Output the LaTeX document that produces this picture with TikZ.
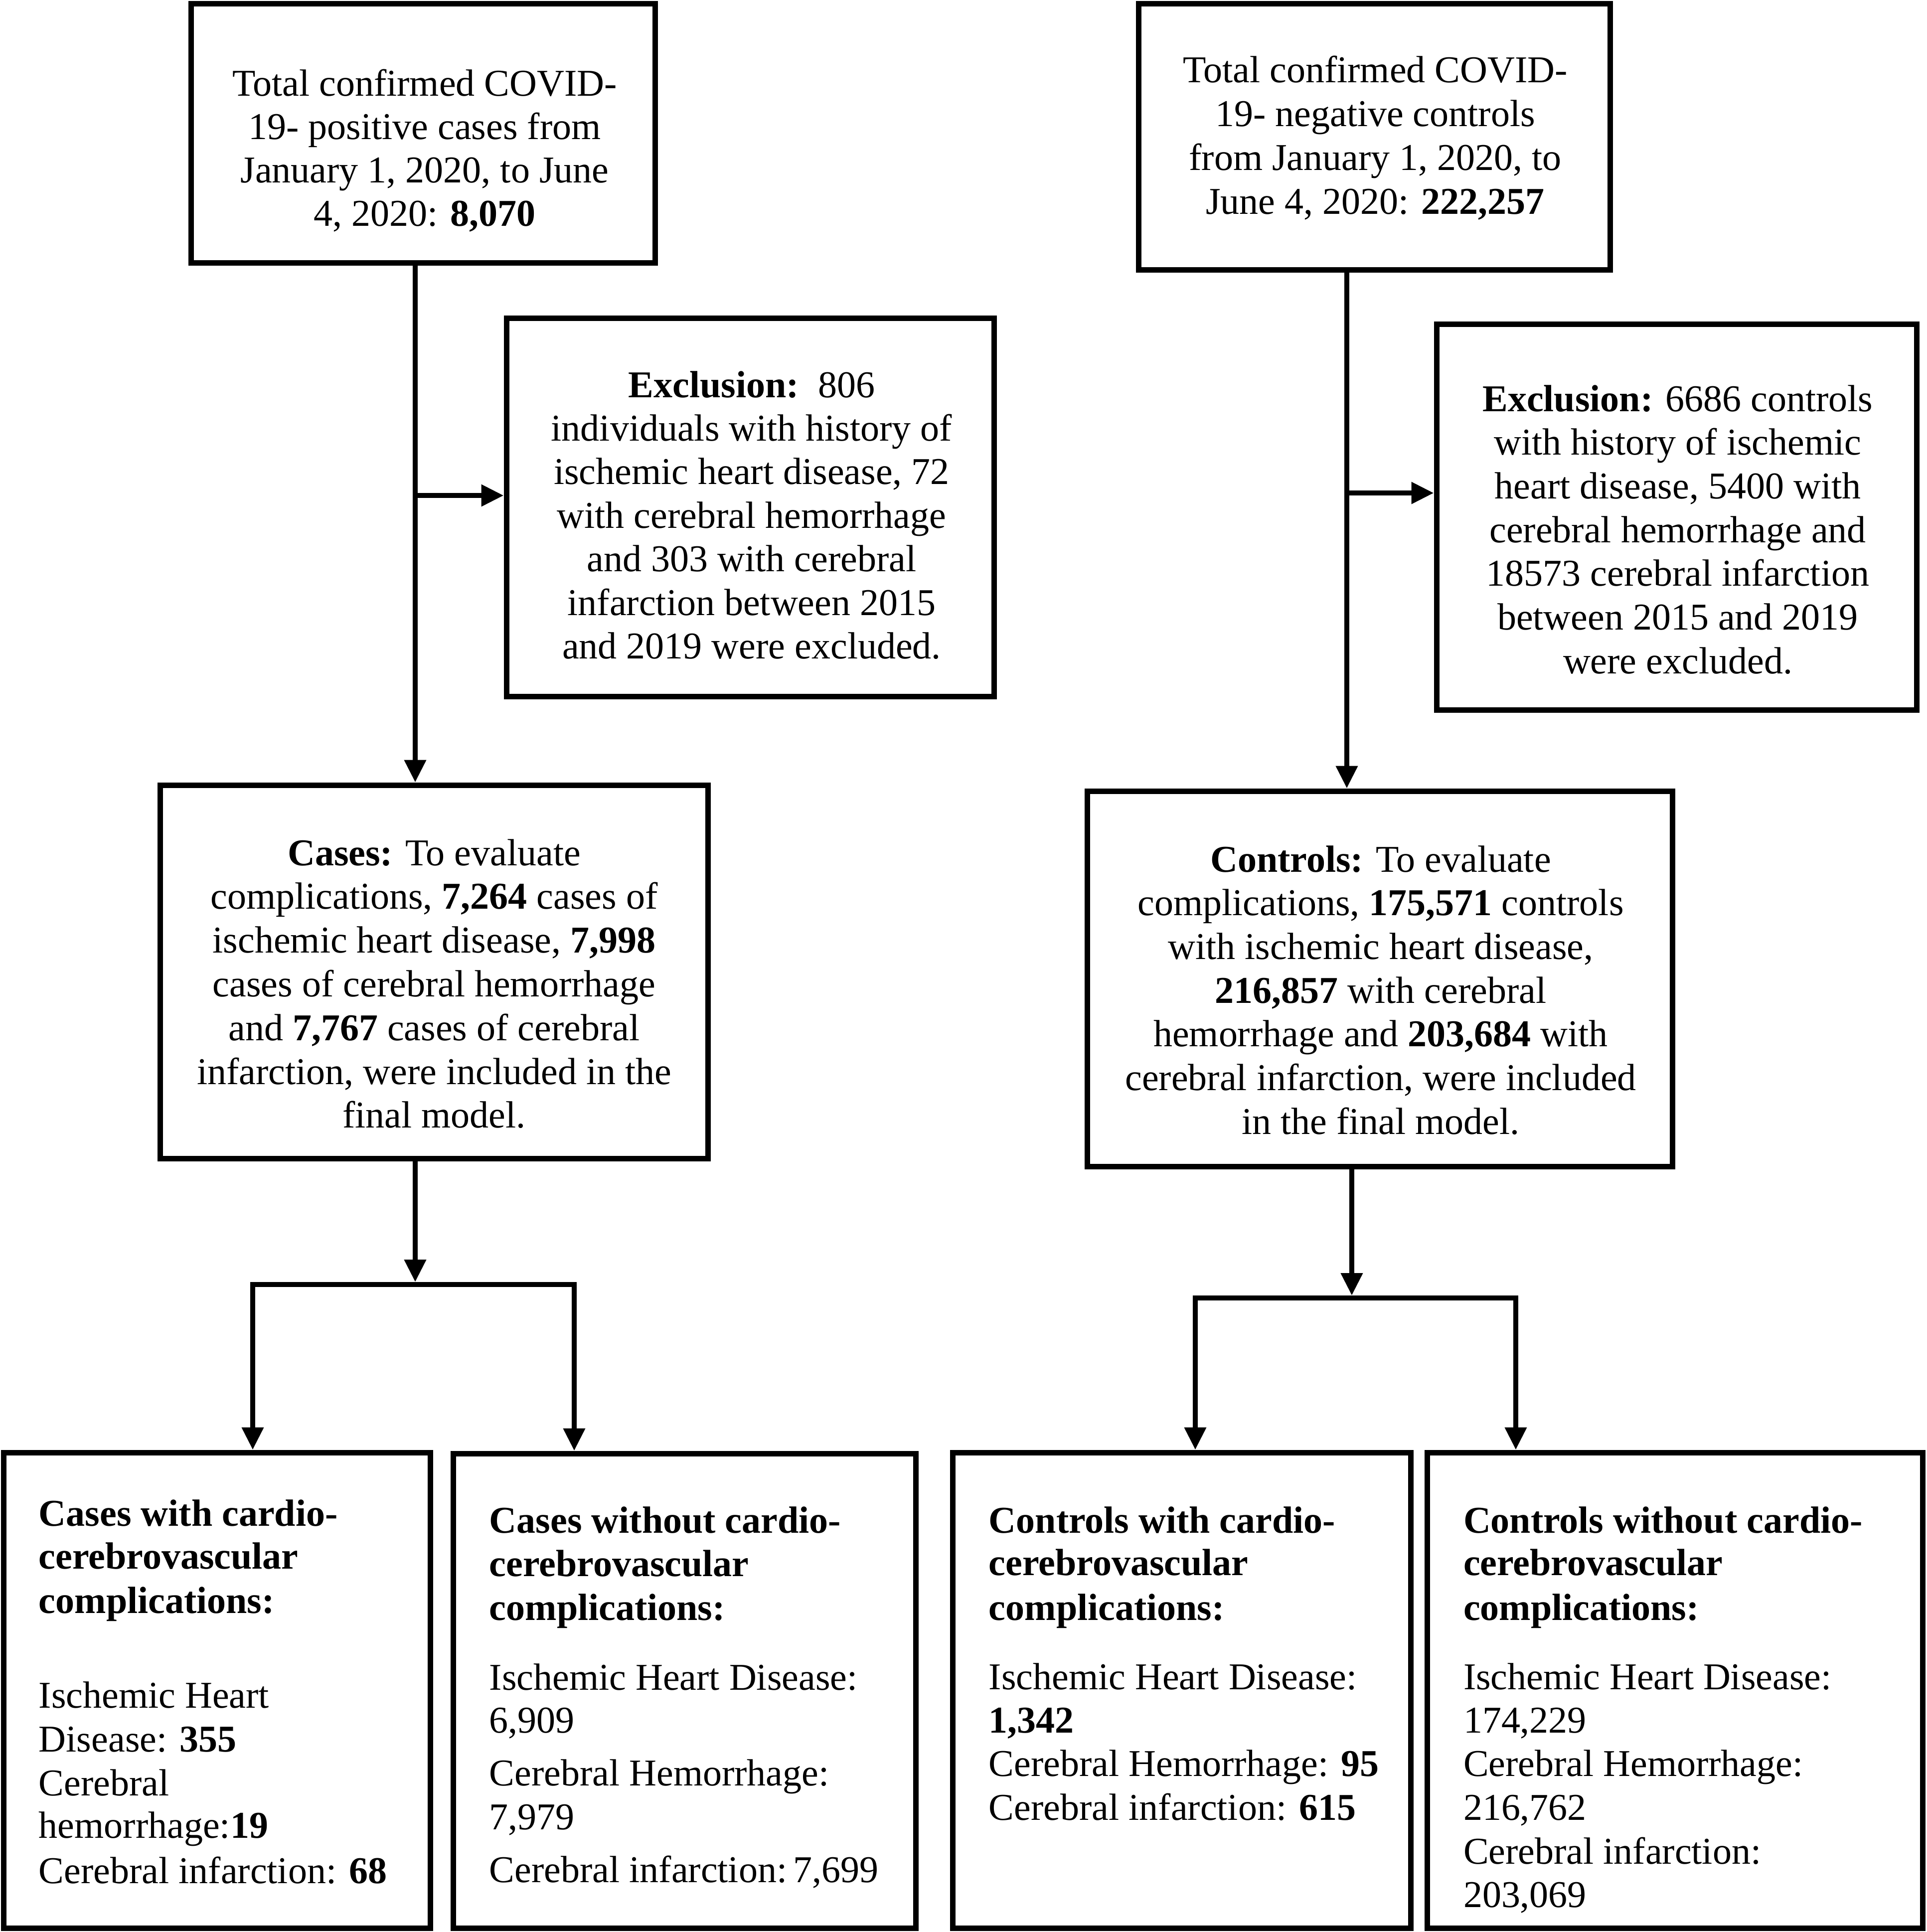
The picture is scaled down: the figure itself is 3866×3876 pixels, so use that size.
\documentclass[tikz,border=0pt]{standalone}
\usepackage{fontspec}
\setmainfont{Liberation Serif}
\usetikzlibrary{arrows.meta}
\begin{document}
\begin{tikzpicture}[x=0.1pt,y=-0.1pt,
  box/.style={draw=black,line width=1.1pt,fill=none,inner sep=0pt},
  txt/.style={inner sep=0pt,font=\fontsize{7.6}{8.75}\selectfont},
  ln/.style={line width=1pt,line join=miter},
  arr/.style={line width=1pt,-{Triangle[length=4.5pt,width=4.2pt]}},
  arrtwo/.style={line width=1pt,line join=miter,{Triangle[length=4.5pt,width=4.2pt]}-{Triangle[length=4.5pt,width=4.2pt]}}]
\useasboundingbox (0,0) rectangle (3866,3876);
% boxes
\node[box,minimum width=93.2pt,minimum height=52pt] (A) at (849,267) {};
\node[box,minimum width=94.7pt,minimum height=53.4pt] (B) at (2757.5,274) {};
\node[box,minimum width=97.9pt,minimum height=75.9pt] (E1) at (1505.5,1017.5) {};
\node[box,minimum width=96.4pt,minimum height=77.4pt] (E2) at (3364,1037) {};
\node[box,minimum width=110pt,minimum height=74.9pt] (Cases) at (871,1949.5) {};
\node[box,minimum width=117.5pt,minimum height=75.3pt] (Controls) at (2768.5,1963.5) {};
\node[box,minimum width=85.7pt,minimum height=95.4pt] (C1) at (435.5,3391) {};
\node[box,minimum width=92.9pt,minimum height=95.2pt] (C2) at (1373.5,3392) {};
\node[box,minimum width=92pt,minimum height=95.4pt] (C3) at (2371,3391) {};
\node[box,minimum width=99.5pt,minimum height=95.4pt] (C4) at (3360.5,3391) {};
% texts of top boxes
\foreach \t [count=\i from 0] in {{Total confirmed COVID-},{19- positive cases from},{January 1, 2020, to June},{4, 2020: \textbf{8,070}}}
  \node[txt,anchor=base] (tA-\i) at (852,{192+\i*87.3}) {\t};
\foreach \t [count=\i from 0] in {{Total confirmed COVID-},{19- negative controls},{from January 1, 2020, to},{June 4, 2020: \textbf{222,257}}}
  \node[txt,anchor=base] (tB-\i) at (2759,{165+\i*88}) {\t};
\foreach \t [count=\i from 0] in {{\textbf{Exclusion:}\ \ 806},{individuals with history of},{ischemic heart disease, 72},{with cerebral hemorrhage},{and 303 with cerebral},{infarction between 2015},{and 2019 were excluded.}}
  \node[txt,anchor=base] (tE1-\i) at (1508,{797+\i*87.4}) {\t};
\foreach \t [count=\i from 0] in {{\textbf{Exclusion:} 6686 controls},{with history of ischemic},{heart disease, 5400 with},{cerebral hemorrhage and},{18573 cerebral infarction},{between 2015 and 2019},{were excluded.}}
  \node[txt,anchor=base] (tE2-\i) at (3366,{825+\i*87.7}) {\t};
\foreach \t [count=\i from 0] in {{\textbf{Cases:} To evaluate},{complications, \textbf{7,264} cases of},{ischemic heart disease, \textbf{7,998}},{cases of cerebral hemorrhage},{and \textbf{7,767} cases of cerebral},{infarction, were included in the},{final model.}}
  \node[txt,anchor=base] (tCa-\i) at (871,{1736+\i*87.8}) {\t};
\foreach \t [count=\i from 0] in {{\textbf{Controls:} To evaluate},{complications, \textbf{175,571} controls},{with ischemic heart disease,},{\textbf{216,857} with cerebral},{hemorrhage and \textbf{203,684} with},{cerebral infarction, were included},{in the final model.}}
  \node[txt,anchor=base] (tCo-\i) at (2770,{1749+\i*87.7}) {\t};
% texts of bottom boxes
\foreach \y/\t [count=\i] in {3061/{\textbf{Cases with cardio-}},3147/{\textbf{cerebrovascular}},3236/{\textbf{complications:}},3426/{Ischemic Heart},3514/{Disease: \textbf{355}},3602/{Cerebral},3687/{hemorrhage:\textbf{19}},3778/{Cerebral infarction: \textbf{68}}}
  \node[txt,anchor=base west] (t1-\i) at (76,\y) {\t};
\foreach \y/\t [count=\i] in {3075/{\textbf{Cases without cardio-}},3162/{\textbf{cerebrovascular}},3250/{\textbf{complications:}},3390/{Ischemic Heart Disease:},3476/{6,909},3582/{Cerebral Hemorrhage:},3670/{7,979},3776/{Cerebral infarction:\,7,699}}
  \node[txt,anchor=base west] (t2-\i) at (980,\y) {\t};
\foreach \y/\t [count=\i] in {3075/{\textbf{Controls with cardio-}},3160/{\textbf{cerebrovascular}},3250/{\textbf{complications:}},3389/{Ischemic Heart Disease:},3476/{\textbf{1,342}},3563/{Cerebral Hemorrhage: \textbf{95}},3651/{Cerebral infarction: \textbf{615}}}
  \node[txt,anchor=base west] (t3-\i) at (1982,\y) {\t};
\foreach \y/\t [count=\i] in {3075/{\textbf{Controls without cardio-}},3160/{\textbf{cerebrovascular}},3250/{\textbf{complications:}},3389/{Ischemic Heart Disease:},3476/{174,229},3563/{Cerebral Hemorrhage:},3651/{216,762},3739/{Cerebral infarction:},3826/{203,069}}
  \node[txt,anchor=base west] (t4-\i) at (2934,\y) {\t};
% connector coordinates
\coordinate (xa) at (833,0);
\coordinate (xb) at (2702,0);
\coordinate (ja) at (833,994);
\coordinate (jb) at (2702,989);
\coordinate (ta) at (833,2572);
\coordinate (tb) at (2712,2599);
\coordinate (bl) at (507,2577);
\coordinate (br) at (1152,2577);
\coordinate (cl) at (2398,2604);
\coordinate (cr) at (3041,2604);
% connectors
\draw[arr] (A.south -| xa) -- (Cases.north -| xa);
\draw[arr] (ja) -- (E1.west |- ja);
\draw[arr] (B.south -| xb) -- (Controls.north -| xb);
\draw[arr] (jb) -- (E2.west |- jb);
\draw[arr] (Cases.south -| ta) -- (ta);
\draw[arr] (Controls.south -| tb) -- (tb);
\draw[arrtwo] (C1.north -| bl) -- (bl) -- (br) -- (C2.north -| br);
\draw[arrtwo] (C3.north -| cl) -- (cl) -- (cr) -- (C4.north -| cr);
\end{tikzpicture}
\end{document}
